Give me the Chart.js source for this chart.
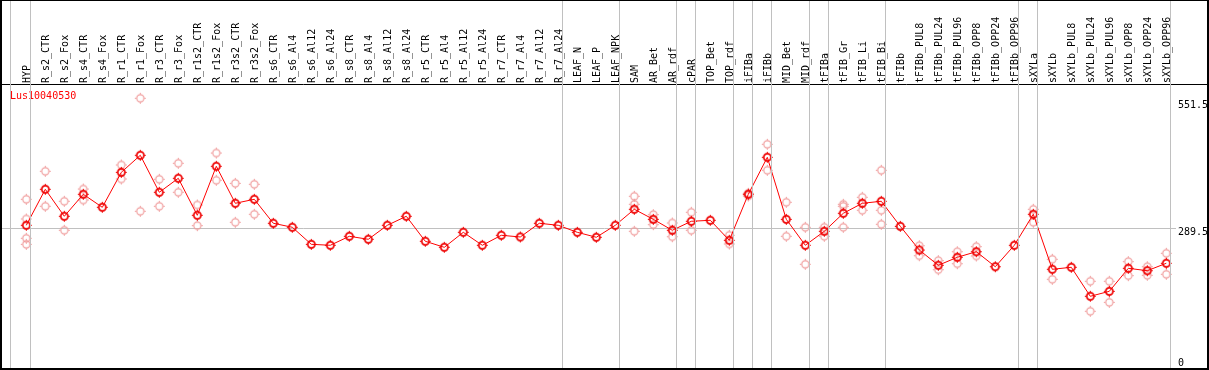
<!DOCTYPE html>
<html><head><meta charset="utf-8">
<script src="https://cdn.jsdelivr.net/npm/chart.js@4.4.1/dist/chart.umd.min.js"></script>
<style>
html,body{margin:0;padding:0;background:#fff;}
#frame{position:absolute;left:0;top:0;width:1209px;height:370px;box-sizing:border-box;border-style:solid;border-color:#000;border-width:1px 2px 2px 2px;overflow:hidden;background:#fff;}
canvas{display:block;}
</style></head><body>
<div id="frame"><canvas id="c" width="1205" height="367"></canvas></div>
<script>
const geneId = 'Lus10040530';
const categories = ['HYP','R_s2_CTR','R_s2_Fox','R_s4_CTR','R_s4_Fox','R_r1_CTR','R_r1_Fox','R_r3_CTR','R_r3_Fox','R_r1s2_CTR','R_r1s2_Fox','R_r3s2_CTR','R_r3s2_Fox','R_s6_CTR','R_s6_Al4','R_s6_Al12','R_s6_Al24','R_s8_CTR','R_s8_Al4','R_s8_Al12','R_s8_Al24','R_r5_CTR','R_r5_Al4','R_r5_Al12','R_r5_Al24','R_r7_CTR','R_r7_Al4','R_r7_Al12','R_r7_Al24','LEAF_N','LEAF_P','LEAF_NPK','SAM','AR_Bet','AR_rdf','cPAR','TOP_Bet','TOP_rdf','iFIBa','iFIBb','MID_Bet','MID_rdf','tFIBa','tFIB_Gr','tFIB_Li','tFIB_Bi','tFIBb','tFIBb_PUL8','tFIBb_PUL24','tFIBb_PUL96','tFIBb_OPP8','tFIBb_OPP24','tFIBb_OPP96','sXYLa','sXYLb','sXYLb_PUL8','sXYLb_PUL24','sXYLb_PUL96','sXYLb_OPP8','sXYLb_OPP24','sXYLb_OPP96'];
const meanValues = [295.7,370.3,314.4,360.0,333.0,405.5,440.8,364.1,393.1,316.4,418.0,341.3,349.6,299.9,291.6,256.3,254.3,272.9,266.7,295.7,314.4,262.6,250.1,281.2,254.3,275.0,271.5,299.9,295.7,281.2,270.9,295.7,328.9,308.1,285.4,304.0,306.1,264.6,360.0,436.6,308.1,254.3,283.3,320.6,341.3,345.5,293.6,244.5,212.8,229.4,241.0,209.9,254.3,318.5,204.5,208.7,148.6,158.9,206.6,201.6,217.0];
const replicateValues = [
  [349.6,308.8,268.8,256.3],[407.6,335.1],[345.5,285.4],[370.9,348.1],[],[420.7,391.7],[558.9,324.7],[391.0,335.1],[424.2,364.1],[337.8,294.9],
  [445.5,389.0],[382.7,301.9],[380.7,318.5],[],[],[],[],[],[],[],
  [],[],[],[],[],[],[],[],[],[],
  [],[],[355.8,339.2,283.3],[317.7,297.0],[300.5,272.1],[322.7,285.4],[],[275.0,257.0],[362.0,356.5],[463.6,409.7],
  [343.4,272.9],[291.6,214.9],[291.6,272.9],[339.2,335.1,291.6],[353.7,326.8],[409.7,326.8,297.8],[],[253.4,232.7],[222.4,203.7],[241.0,216.1],
  [251.4,232.1],[],[],[328.9,301.9],[225.3,183.8],[],[179.7,117.5],[179.7,136.1],[220.3,191.3],[209.9,192.1],
  [237.7,194.2]
];
const yLabelTicks = [551.5, 289.5];
const yBottomTicks = [0];
const referenceLine = 289.5;
const groupEndsAfter = [-1.05,0,28,31,34,35,37,38,39,41,42,45,52,53,60];

const X_MIN = -1.2789, X_MAX = 62.142;
const FONT = {family:'"DejaVu Sans Mono", monospace', size:10};
const GRID = '#c0c0c0';
const NONE = 'rgba(0,0,0,0)';
const sepValues = groupEndsAfter.map(j => j + 0.23);

function makeMarker(color, lw) {
  const c = document.createElement('canvas');
  c.width = 13; c.height = 13;
  const g = c.getContext('2d');
  g.strokeStyle = color; g.fillStyle = color; g.lineWidth = lw;
  g.beginPath(); g.arc(6.5, 6.5, 3.6, 0, Math.PI * 2); g.stroke();
  g.fillRect(6, 1, 1, 1.5); g.fillRect(6, 10.5, 1, 1.5);
  g.fillRect(1, 6, 1.5, 1); g.fillRect(10.5, 6, 1.5, 1);
  return c;
}
const meanMarker = makeMarker('#ee0000', 1.7);
const repMarker = makeMarker('#f09c9c', 1.2);

new Chart(document.getElementById('c'), {
  type: 'line',
  data: {
    datasets: [
      {
        type: 'line', label: geneId,
        data: meanValues.map((v, i) => ({x: i, y: v})),
        borderColor: '#ff0000', borderWidth: 1, tension: 0,
        pointStyle: meanMarker, pointRadius: 4,
        order: 0, clip: false
      },
      {
        type: 'scatter', label: 'replicates',
        data: replicateValues.flatMap((arr, i) => arr.map(v => ({x: i, y: v}))),
        pointStyle: repMarker, pointRadius: 4,
        order: 1, clip: false
      }
    ]
  },
  options: {
    responsive: false, animation: false, devicePixelRatio: 1,
    layout: {padding: 0, autoPadding: false},
    plugins: {
      tooltip: {enabled: false},
      legend: {
        position: 'chartArea', align: 'start', onClick: null,
        labels: {
          boxWidth: 0, boxHeight: 184, padding: 3, font: FONT,
          generateLabels: () => [{text: geneId, fontColor: '#ff0000', fillStyle: NONE, strokeStyle: NONE, lineWidth: 0, hidden: false, datasetIndex: 0}]
        }
      }
    },
    scales: {
      x: {
        type: 'linear', position: 'top', min: X_MIN, max: X_MAX, bounds: 'data', weight: 1,
        afterBuildTicks: s => { s.ticks = categories.map((_, i) => ({value: i})); },
        afterFit: s => { s.height = 83; s.paddingLeft = 0; s.paddingRight = 0; },
        grid: {display: false, drawTicks: false},
        border: {display: true, color: '#000', width: 1},
        ticks: {
          autoSkip: false, minRotation: 90, maxRotation: 90, padding: 1, labelOffset: 13,
          font: FONT, color: '#000',
          callback: v => categories[v]
        }
      },
      xs: {
        type: 'linear', position: 'top', min: X_MIN, max: X_MAX, bounds: 'data', weight: 0,
        afterBuildTicks: s => { s.ticks = sepValues.map(v => ({value: v})); },
        afterFit: s => { s.height = 0; s.paddingLeft = 0; s.paddingRight = 0; },
        grid: {color: GRID, tickColor: GRID, lineWidth: 1, drawTicks: true, tickLength: 83, z: 1},
        border: {display: false},
        ticks: {display: false}
      },
      y: {
        type: 'linear', position: 'left', min: 0, max: 588.5, bounds: 'data',
        afterBuildTicks: s => { s.ticks = yLabelTicks.map(v => ({value: v})); },
        afterFit: s => { s.width = 0; s.paddingTop = 0; s.paddingBottom = 0; },
        grid: {color: c => (c.tick && c.tick.value === referenceLine) ? GRID : NONE, drawTicks: false, lineWidth: 1},
        border: {display: false},
        ticks: {
          mirror: true, padding: 1176, labelOffset: 4, font: FONT, color: '#000',
          showLabelBackdrop: true, backdropColor: '#ffffff', backdropPadding: {top: 2, bottom: 1, left: 2, right: 2},
          callback: v => String(v)
        }
      },
      y0: {
        type: 'linear', position: 'left', min: 0, max: 588.5, bounds: 'data',
        afterBuildTicks: s => { s.ticks = yBottomTicks.map(v => ({value: v})); },
        afterFit: s => { s.width = 0; s.paddingTop = 0; s.paddingBottom = 0; },
        grid: {display: false, drawTicks: false},
        border: {display: false},
        ticks: {mirror: true, padding: 1176, labelOffset: -4.5, font: FONT, color: '#000', callback: v => String(v)}
      }
    }
  }
});
</script>
</body></html>
